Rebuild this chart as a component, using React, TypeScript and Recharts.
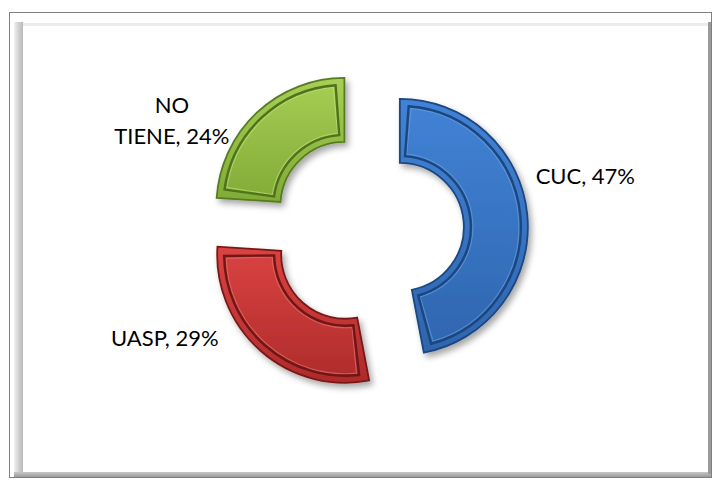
import React from 'react';
import { PieChart, Pie, Cell, Sector } from 'recharts';

// ---- data ----
const categories = ['CUC', 'UASP', 'NO TIENE'];
const shares = [47, 29, 24];
const labelLines = [['CUC, 47%'], ['UASP, 29%'], ['NO', 'TIENE, 24%']];

// ---- styling / layout ----
const W = 714;
const H = 482;
const CX = 367;
const CY = 230;
const R_OUT = 128;
const R_IN = 64;
const EXPLODE = 33;
const BEVEL = 7;
const FONT = 'Lato, "Open Sans", sans-serif';
const FONT_SIZE = 22;
const LINE_H = 31;
const gradients = [
  { id: 'gBlue', top: '#4283d6', bottom: '#2e65ae', edge: '#1b4680', bevel: '#1c467e', light: '#6a9fe0' },
  { id: 'gRed', top: '#da4341', bottom: '#ae2b2b', edge: '#7a1818', bevel: '#701616', light: '#e67470' },
  { id: 'gGreen', top: '#a8ce55', bottom: '#80ab36', edge: '#577c20', bevel: '#4f721c', light: '#c2e07c' },
];
// label placement: angle clockwise from 12 o'clock (deg), distance from chart centre
const labelPlacement = [
  { angle: 76, r: 225 },
  { angle: 242, r: 229 },
  { angle: 299.4, r: 224 },
];

const data = categories.map((name, i) => ({ name, value: shares[i] }));
const total = shares.reduce((a, b) => a + b, 0);
const offsets = shares.map((v, i) => {
  const before = shares.slice(0, i).reduce((a, b) => a + b, 0);
  const t = ((before + v / 2) / total) * 2 * Math.PI;
  return { dx: EXPLODE * Math.sin(t), dy: -EXPLODE * Math.cos(t) };
});

const makeLabel = (slice: number) => (props: any) => {
  if (props.index !== slice) return null;
  const { cx, cy, innerRadius, outerRadius, startAngle, endAngle } = props;
  const sign = endAngle > startAngle ? 1 : -1;
  const midR = (innerRadius + outerRadius) / 2;
  const delta = (BEVEL / midR) * (180 / Math.PI);
  const g = gradients[slice];
  const p = labelPlacement[slice];
  const a = (p.angle * Math.PI) / 180;
  const tx = CX + p.r * Math.sin(a);
  const ty = CY - p.r * Math.cos(a);
  const lines = labelLines[slice];
  const y0 = ty - ((lines.length - 1) * LINE_H) / 2;
  const delta2 = ((BEVEL + 2) / midR) * (180 / Math.PI);
  return (
    <g>
      <Sector
        cx={cx}
        cy={cy}
        innerRadius={innerRadius + BEVEL + 2}
        outerRadius={outerRadius - BEVEL - 2}
        startAngle={startAngle + sign * delta2}
        endAngle={endAngle - sign * delta2}
        fill="none"
        stroke={g.light}
        strokeWidth={1.2}
        strokeOpacity={0.6}
      />
      <Sector
        cx={cx}
        cy={cy}
        innerRadius={innerRadius + BEVEL}
        outerRadius={outerRadius - BEVEL}
        startAngle={startAngle + sign * delta}
        endAngle={endAngle - sign * delta}
        fill="none"
        stroke={g.bevel}
        strokeWidth={2.4}
      />
      <text
        x={tx}
        y={y0}
        textAnchor="middle"
        fontFamily={FONT}
        fontSize={FONT_SIZE}
        fill="#000"
      >
        {lines.map((ln, k) => (
          <tspan key={k} x={tx} y={y0 + k * LINE_H} dominantBaseline="central">
            {ln}
          </tspan>
        ))}
      </text>
    </g>
  );
};

export default function App() {
  return (
    <div style={{ position: 'absolute', left: 0, top: 0, width: W, height: H, background: '#fff', overflow: 'hidden' }}>
      <svg width={0} height={0} style={{ position: 'absolute' }}>
        <defs>
          {gradients.map((g) => (
            <linearGradient key={g.id} id={g.id} x1="0" y1="0" x2="0" y2="1">
              <stop offset="0%" stopColor={g.top} />
              <stop offset="100%" stopColor={g.bottom} />
            </linearGradient>
          ))}
          <filter id="shadow" x="-20%" y="-20%" width="150%" height="150%">
            <feDropShadow dx="3" dy="4" stdDeviation="3" floodColor="#000" floodOpacity="0.35" />
          </filter>
        </defs>
      </svg>
      {/* frame */}
      <div style={{ position: 'absolute', left: 9, top: 12, width: 703, height: 466, border: '1.5px solid #7f7f7f', boxSizing: 'border-box' }} />
      <div style={{ position: 'absolute', left: 14, top: 22, width: 9, height: 452, background: 'linear-gradient(to right, #f2f2f2, #d4d4d4 45%, #b9b9b9)' }} />
      <div style={{ position: 'absolute', left: 23, top: 23, width: 686, height: 3, background: '#ececec' }} />
      <div style={{ position: 'absolute', left: 14, top: 472, width: 697, height: 5, background: 'linear-gradient(to bottom, #c8c8c8, #9a9a9a)' }} />
      <div style={{ position: 'absolute', left: 708, top: 22, width: 3, height: 452, background: '#9a9a9a' }} />
      <div style={{ position: 'absolute', left: 0, top: 0 }}>
        <PieChart width={W} height={H} margin={{ top: 0, right: 0, bottom: 0, left: 0 }}>
          {categories.map((_, slice) => (
            <Pie
              key={slice}
              data={data}
              dataKey="value"
              nameKey="name"
              cx={CX + offsets[slice].dx}
              cy={CY + offsets[slice].dy}
              innerRadius={R_IN}
              outerRadius={R_OUT}
              startAngle={90}
              endAngle={-270}
              isAnimationActive={false}
              labelLine={false}
              label={makeLabel(slice)}
            >
              {data.map((_, i) => (
                <Cell
                  key={i}
                  fill={i === slice ? `url(#${gradients[i].id})` : 'transparent'}
                  stroke={i === slice ? gradients[i].edge : 'none'}
                  strokeWidth={1.8}
                  filter={i === slice ? 'url(#shadow)' : undefined}
                />
              ))}
            </Pie>
          ))}
        </PieChart>
      </div>
    </div>
  );
}
